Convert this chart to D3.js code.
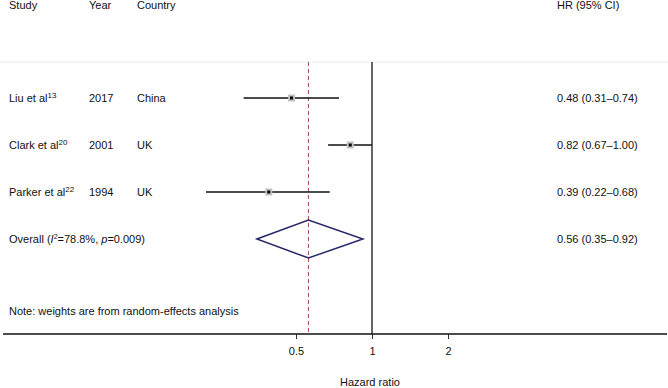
<!DOCTYPE html>
<html>
<head>
<script src="https://cdn.jsdelivr.net/npm/d3@7"></script>
<style type="text/css">
  body{
    background: white;
    margin: 0px;
  }
  text{
    font-family: 'Liberation Sans', Arial, sans-serif;
    font-size: 11px;
    fill: #111;
  }
  .ci{
    stroke: #111;
    stroke-width: 1.5px;
  }
</style>
</head>
<body>
<script>

// study rows
var studies   = ["Liu et al", "Clark et al", "Parker et al"];
var refs      = ["13", "20", "22"];
var years     = ["2017", "2001", "1994"];
var countries = ["China", "UK", "UK"];
var hr        = [0.48, 0.82, 0.39];
var lower     = [0.31, 0.67, 0.22];
var upper     = [0.74, 1.00, 0.68];
var hrLabels  = ["0.48 (0.31\u20130.74)", "0.82 (0.67\u20131.00)", "0.39 (0.22\u20130.68)"];

// pooled estimate
var overallHR = 0.56;
var overallLo = 0.35;
var overallHi = 0.92;
var overallLabel = "0.56 (0.35\u20130.92)";

var tickValues = [0.5, 1, 2];

var width = 668,
    height = 388;

var svg = d3.select("body").append("svg")
    .attr("width", width)
    .attr("height", height);

var x = d3.scaleLog().domain([0.5, 2]).range([296, 448]);
var y = d3.scaleLinear().domain([0, 3]).range([98, 239]);

var axisY = 334;

// header
var header = svg.append("g");
header.append("text").attr("x", 9).attr("y", 9).text("Study");
header.append("text").attr("x", 89).attr("y", 9).text("Year");
header.append("text").attr("x", 137).attr("y", 9).text("Country");
header.append("text").attr("x", 557).attr("y", 9).text("HR (95% CI)");

// faint rule under the header
svg.append("line")
    .attr("x1", 0).attr("x2", width)
    .attr("y1", 62).attr("y2", 62)
    .attr("stroke", "#ececec")
    .attr("stroke-width", 1);

// no-effect line
svg.append("line")
    .attr("x1", x(1)).attr("x2", x(1))
    .attr("y1", 62).attr("y2", axisY)
    .attr("stroke", "#333")
    .attr("stroke-width", 1.5);

// overall estimate line
svg.append("line")
    .attr("x1", x(overallHR)).attr("x2", x(overallHR))
    .attr("y1", 62).attr("y2", axisY)
    .attr("stroke", "#a64a4a")
    .attr("stroke-width", 1)
    .attr("stroke-dasharray", "4,3");

// study rows
var rows = svg.selectAll(".row")
    .data(studies)
    .enter().append("g")
    .attr("class", "row");

var nameText = rows.append("text")
    .attr("x", 9)
    .attr("y", function(d, i) { return y(i) + 4; })
    .text(function(d) { return d; });
nameText.append("tspan")
    .attr("dy", -4)
    .style("font-size", "8px")
    .text(function(d, i) { return refs[i]; });

rows.append("text")
    .attr("x", 89)
    .attr("y", function(d, i) { return y(i) + 4; })
    .text(function(d, i) { return years[i]; });

rows.append("text")
    .attr("x", 137)
    .attr("y", function(d, i) { return y(i) + 4; })
    .text(function(d, i) { return countries[i]; });

rows.append("text")
    .attr("x", 557)
    .attr("y", function(d, i) { return y(i) + 4; })
    .text(function(d, i) { return hrLabels[i]; });

rows.append("line")
    .attr("class", "ci")
    .attr("x1", function(d, i) { return x(lower[i]); })
    .attr("x2", function(d, i) { return x(upper[i]); })
    .attr("y1", function(d, i) { return y(i); })
    .attr("y2", function(d, i) { return y(i); });

rows.append("rect")
    .attr("x", function(d, i) { return x(hr[i]) - 3.5; })
    .attr("y", function(d, i) { return y(i) - 3.5; })
    .attr("width", 7)
    .attr("height", 7)
    .attr("fill", "#c2c2c2");

rows.append("rect")
    .attr("x", function(d, i) { return x(hr[i]) - 1.5; })
    .attr("y", function(d, i) { return y(i) - 1.5; })
    .attr("width", 3)
    .attr("height", 3)
    .attr("fill", "#000");

// overall row
var oy = y(3);
var overall = svg.append("text").attr("x", 9).attr("y", oy + 4);
overall.append("tspan").text("Overall (");
overall.append("tspan").style("font-style", "italic").text("I");
overall.append("tspan").attr("dy", -4).style("font-size", "7px").text("2");
overall.append("tspan").attr("dy", 4).text("=78.8%, ");
overall.append("tspan").style("font-style", "italic").text("p");
overall.append("tspan").text("=0.009)");

svg.append("text").attr("x", 557).attr("y", oy + 4).text(overallLabel);

svg.append("path")
    .attr("d", d3.line()([
      [x(overallLo), oy],
      [x(overallHR), oy - 19],
      [x(overallHi), oy],
      [x(overallHR), oy + 19]
    ]) + "Z")
    .attr("fill", "none")
    .attr("stroke", "#262766")
    .attr("stroke-width", 1.5);

// note
svg.append("text")
    .attr("x", 9)
    .attr("y", 315)
    .text("Note: weights are from random-effects analysis");

// x axis
var axis = svg.append("g")
    .attr("transform", "translate(0," + axisY + ")")
    .call(d3.axisBottom(x)
      .tickValues(tickValues)
      .tickFormat(d3.format(""))
      .tickSize(5)
      .tickSizeOuter(0));

axis.select(".domain").remove();
axis.selectAll("line").attr("stroke", "#333");
axis.selectAll("text")
    .attr("dy", null)
    .attr("y", 21)
    .style("font-family", "'Liberation Sans', Arial, sans-serif")
    .style("font-size", "11px")
    .attr("fill", "#111");

svg.append("line")
    .attr("x1", 3).attr("x2", 667)
    .attr("y1", axisY).attr("y2", axisY)
    .attr("stroke", "#111")
    .attr("stroke-width", 1.5);

svg.append("text")
    .attr("x", 370)
    .attr("y", 386)
    .attr("text-anchor", "middle")
    .text("Hazard ratio");

</script>
</body>
</html>
